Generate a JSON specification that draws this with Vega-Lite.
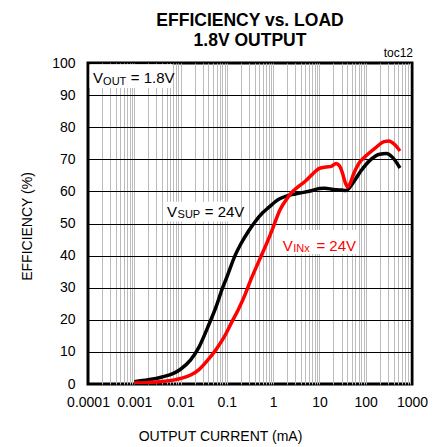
{
  "$schema": "https://vega.github.io/schema/vega-lite/v6.json",
  "width": 324,
  "height": 321,
  "autosize": {"type": "none"},
  "padding": {"left": 88, "top": 63, "right": 28, "bottom": 63},
  "config": {
    "view": {"stroke": "#000000", "strokeWidth": 3},
    "font": "Liberation Sans",
    "axis": {"labelFont": "Liberation Sans", "titleFont": "Liberation Sans", "labelColor": "#000", "titleColor": "#000", "labelFontSize": 14, "titleFontSize": 14, "titleFontWeight": "normal", "domain": false, "ticks": false, "tickSize": 0}
  },
  "title": {
    "text": ["EFFICIENCY vs. LOAD", "1.8V OUTPUT"],
    "font": "Liberation Sans",
    "fontSize": 17.5,
    "fontWeight": "bold",
    "lineHeight": 20,
    "anchor": "middle",
    "offset": 15,
    "dy": 17,
    "color": "#000"
  },
  "datasets": {
    "curves": [
      {"I": 0.001, "E": 0.7, "s": "VSUP"},
      {"I": 0.002, "E": 1.3, "s": "VSUP"},
      {"I": 0.004, "E": 2.2, "s": "VSUP"},
      {"I": 0.007, "E": 3.3, "s": "VSUP"},
      {"I": 0.01, "E": 4.6, "s": "VSUP"},
      {"I": 0.0165, "E": 7.5, "s": "VSUP"},
      {"I": 0.025, "E": 11.5, "s": "VSUP"},
      {"I": 0.039, "E": 17.8, "s": "VSUP"},
      {"I": 0.06, "E": 24.5, "s": "VSUP"},
      {"I": 0.08, "E": 29.8, "s": "VSUP"},
      {"I": 0.1, "E": 33.3, "s": "VSUP"},
      {"I": 0.15, "E": 40, "s": "VSUP"},
      {"I": 0.2, "E": 43.6, "s": "VSUP"},
      {"I": 0.3, "E": 47.8, "s": "VSUP"},
      {"I": 0.4, "E": 50.4, "s": "VSUP"},
      {"I": 0.6, "E": 53.4, "s": "VSUP"},
      {"I": 0.8, "E": 55, "s": "VSUP"},
      {"I": 1.35, "E": 57.6, "s": "VSUP"},
      {"I": 2, "E": 58.6, "s": "VSUP"},
      {"I": 3, "E": 59.2, "s": "VSUP"},
      {"I": 4.5, "E": 59.7, "s": "VSUP"},
      {"I": 7, "E": 60.3, "s": "VSUP"},
      {"I": 10, "E": 60.9, "s": "VSUP"},
      {"I": 13, "E": 61, "s": "VSUP"},
      {"I": 20, "E": 60.6, "s": "VSUP"},
      {"I": 30, "E": 60.4, "s": "VSUP"},
      {"I": 38, "E": 60.3, "s": "VSUP"},
      {"I": 45, "E": 61.2, "s": "VSUP"},
      {"I": 60, "E": 63.8, "s": "VSUP"},
      {"I": 80, "E": 66.5, "s": "VSUP"},
      {"I": 130, "E": 70, "s": "VSUP"},
      {"I": 200, "E": 71.6, "s": "VSUP"},
      {"I": 280, "E": 71.8, "s": "VSUP"},
      {"I": 380, "E": 70.6, "s": "VSUP"},
      {"I": 550, "E": 67.3, "s": "VSUP"},
      {"I": 0.001, "E": 0.3, "s": "VINx"},
      {"I": 0.002, "E": 0.5, "s": "VINx"},
      {"I": 0.004, "E": 0.8, "s": "VINx"},
      {"I": 0.007, "E": 1.2, "s": "VINx"},
      {"I": 0.01, "E": 1.7, "s": "VINx"},
      {"I": 0.0165, "E": 2.8, "s": "VINx"},
      {"I": 0.025, "E": 4.5, "s": "VINx"},
      {"I": 0.039, "E": 7.5, "s": "VINx"},
      {"I": 0.06, "E": 11, "s": "VINx"},
      {"I": 0.087, "E": 14.6, "s": "VINx"},
      {"I": 0.13, "E": 19.5, "s": "VINx"},
      {"I": 0.174, "E": 23, "s": "VINx"},
      {"I": 0.25, "E": 28, "s": "VINx"},
      {"I": 0.33, "E": 32.5, "s": "VINx"},
      {"I": 0.5, "E": 38.5, "s": "VINx"},
      {"I": 0.78, "E": 44.9, "s": "VINx"},
      {"I": 1, "E": 48.8, "s": "VINx"},
      {"I": 1.4, "E": 54.2, "s": "VINx"},
      {"I": 2, "E": 57.8, "s": "VINx"},
      {"I": 2.45, "E": 59.5, "s": "VINx"},
      {"I": 3.5, "E": 61.5, "s": "VINx"},
      {"I": 4.8, "E": 63, "s": "VINx"},
      {"I": 7, "E": 65.3, "s": "VINx"},
      {"I": 10, "E": 67.2, "s": "VINx"},
      {"I": 14, "E": 67.6, "s": "VINx"},
      {"I": 18, "E": 67.8, "s": "VINx"},
      {"I": 23, "E": 68.7, "s": "VINx"},
      {"I": 27, "E": 68, "s": "VINx"},
      {"I": 31, "E": 66, "s": "VINx"},
      {"I": 36, "E": 62.8, "s": "VINx"},
      {"I": 41, "E": 61.4, "s": "VINx"},
      {"I": 47, "E": 62.8, "s": "VINx"},
      {"I": 55, "E": 65.5, "s": "VINx"},
      {"I": 70, "E": 68.6, "s": "VINx"},
      {"I": 100, "E": 71, "s": "VINx"},
      {"I": 160, "E": 73.5, "s": "VINx"},
      {"I": 250, "E": 75.5, "s": "VINx"},
      {"I": 320, "E": 75.7, "s": "VINx"},
      {"I": 420, "E": 74.6, "s": "VINx"},
      {"I": 550, "E": 72.6, "s": "VINx"}
    ],
    "boxes": [
      {"I": 0.000108, "I2": 0.0067, "E": 92.2, "E2": 99.6},
      {"I": 0.00472, "I2": 0.2014, "E": 50.6, "E2": 56.8},
      {"I": 1.35, "I2": 63.7, "E": 40.5, "E2": 48}
    ],
    "annot": [
      {"I": 0.0001285, "E": 93.77, "t": "V", "role": "main", "s": "VOUT"},
      {"I": 0.0002118, "E": 93.15, "t": "OUT", "role": "sub", "s": "VOUT"},
      {"I": 0.000839, "E": 93.77, "t": "= 1.8V", "role": "main", "s": "VOUT"},
      {"I": 0.005093, "E": 51.9, "t": "V", "role": "main", "s": "VSUP"},
      {"I": 0.00861, "E": 51.56, "t": "SUP", "role": "sub", "s": "VSUP"},
      {"I": 0.03327, "E": 51.9, "t": "= 24V", "role": "main", "s": "VSUP"},
      {"I": 1.609, "E": 41.43, "t": "V", "role": "main", "s": "VINx"},
      {"I": 2.722, "E": 41.12, "t": "INx", "role": "sub", "s": "VINx"},
      {"I": 8.604, "E": 41.43, "t": "= 24V", "role": "main", "s": "VINx"},
      {"I": 1000, "E": 100, "t": "toc12", "role": "note", "s": "VOUT"}
    ]
  },
  "encoding": {
    "x": {"field": "I", "type": "quantitative", "scale": {"type": "log", "domain": [0.0001, 1000]},
      "title": "OUTPUT CURRENT (mA)",
      "axis": {
        "values": [0.0001,0.0002,0.0003,0.0004,0.0005,0.0006,0.0007,0.0008,0.0009,0.001,0.002,0.003,0.004,0.005,0.006,0.007,0.008,0.009,0.01,0.02,0.03,0.04,0.05,0.06,0.07,0.08,0.09,0.1,0.2,0.3,0.4,0.5,0.6,0.7,0.8,0.9,1,2,3,4,5,6,7,8,9,10,20,30,40,50,60,70,80,90,100,200,300,400,500,600,700,800,900,1000],
        "format": "~g",
        "labelExpr": "indexof([0.0001,0.001,0.01,0.1,1,10,100,1000], datum.value) >= 0 ? datum.label : ''",
        "labelOverlap": false,
        "labelFlush": false,
        "labelPadding": 11,
        "grid": true,
        "gridColor": "#bcbcbc",
        "gridWidth": 1,
        "gridOpacity": {"condition": {"test": "datum.value <= 0.0001 || datum.value >= 1000", "value": 0}, "value": 1},
        "titleX": 132,
        "titleY": 56,
        "titleBaseline": "alphabetic",
        "titleAnchor": "middle"
      }
    },
    "y": {"field": "E", "type": "quantitative", "scale": {"domain": [0, 100]},
      "title": "EFFICIENCY (%)",
      "axis": {
        "values": [0,10,20,30,40,50,60,70,80,90,100],
        "labelOverlap": false,
        "labelPadding": 13,
        "grid": true,
        "gridColor": "#000000",
        "gridWidth": 1.2,
        "gridOpacity": {"condition": {"test": "datum.value <= 0 || datum.value >= 100", "value": 0}, "value": 1},
        "titleX": -60.5,
        "titleY": 163,
        "titleBaseline": "middle",
        "titleAngle": -90
      }
    }
  },
  "layer": [
    {
      "data": {"name": "boxes"},
      "mark": {"type": "rect", "fill": "#ffffff", "stroke": null},
      "encoding": {
        "x2": {"field": "I2"},
        "y2": {"field": "E2"}
      }
    },
    {
      "data": {"name": "curves"},
      "mark": {"type": "line", "interpolate": "monotone", "strokeWidth": 3.5, "clip": true},
      "encoding": {
        "color": {"field": "s", "type": "nominal", "scale": {"domain": ["VSUP", "VINx", "VOUT"], "range": ["#000000", "#ff0000", "#000000"]}, "legend": null},
        "detail": {"field": "s"}
      }
    },
    {
      "data": {"name": "annot"},
      "transform": [{"filter": "datum.role === 'main'"}],
      "mark": {"type": "text", "align": "left", "baseline": "alphabetic", "fontSize": 15, "font": "Liberation Sans"},
      "encoding": {
        "text": {"field": "t"},
        "color": {"field": "s", "type": "nominal", "legend": null}
      }
    },
    {
      "data": {"name": "annot"},
      "transform": [{"filter": "datum.role === 'sub'"}],
      "mark": {"type": "text", "align": "left", "baseline": "alphabetic", "fontSize": 11, "font": "Liberation Sans"},
      "encoding": {
        "text": {"field": "t"},
        "color": {"field": "s", "type": "nominal", "legend": null}
      }
    },
    {
      "data": {"name": "annot"},
      "transform": [{"filter": "datum.role === 'note'"}],
      "mark": {"type": "text", "align": "right", "baseline": "alphabetic", "fontSize": 12, "font": "Liberation Sans", "dy": -6, "dx": 1},
      "encoding": {
        "text": {"field": "t"},
        "color": {"value": "#000000"}
      }
    }
  ]
}
